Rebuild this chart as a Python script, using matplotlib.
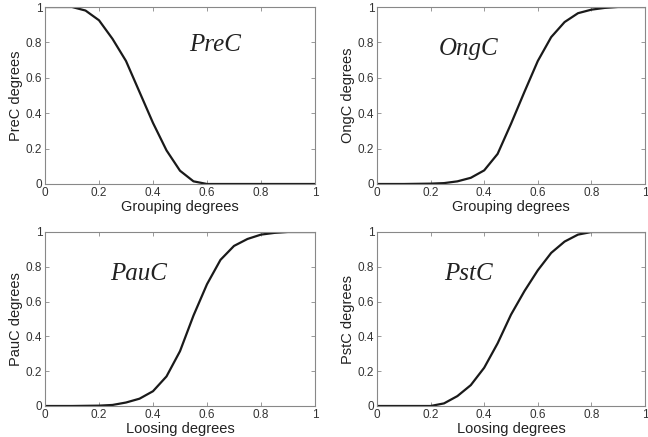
import matplotlib
matplotlib.use("Agg")
import matplotlib.pyplot as plt
from matplotlib.ticker import FuncFormatter

plt.rcParams['font.family'] = ['Liberation Sans', 'DejaVu Sans']

# x grid used for all four curves
x = [0.0, 0.05, 0.1, 0.15, 0.2, 0.25, 0.3, 0.35, 0.4, 0.45, 0.5,
     0.55, 0.6, 0.65, 0.7, 0.75, 0.8, 0.85, 0.9, 0.95, 1.0]

prec = [1, 1, 1, 0.98, 0.925, 0.82, 0.695, 0.52, 0.345, 0.19, 0.075,
        0.015, 0, 0, 0, 0, 0, 0, 0, 0, 0]
ongc = [0, 0, 0, 0.001, 0.002, 0.005, 0.015, 0.035, 0.077, 0.17, 0.34,
        0.52, 0.695, 0.83, 0.915, 0.965, 0.985, 0.995, 1, 1, 1]
pauc = [0, 0, 0, 0.001, 0.002, 0.006, 0.02, 0.042, 0.085, 0.17, 0.315,
        0.52, 0.70, 0.84, 0.92, 0.96, 0.985, 0.995, 1, 1, 1]
pstc = [0, 0, 0, 0, 0, 0.015, 0.057, 0.12, 0.22, 0.36, 0.525,
        0.66, 0.78, 0.88, 0.945, 0.985, 1, 1, 1, 1, 1]

names = ["PreC", "OngC", "PauC", "PstC"]
curves = [prec, ongc, pauc, pstc]
xlabels = ["Grouping degrees", "Grouping degrees", "Loosing degrees", "Loosing degrees"]
label_pos = [(0.63, 0.785), (0.34, 0.76), (0.345, 0.76), (0.34, 0.76)]

W, H = 648, 437
fig = plt.figure(figsize=(W / 100, H / 100), dpi=100)

# axes boxes in pixels: left, top, right, bottom
boxes = [(45, 7, 315, 184), (377, 7, 645, 184),
         (45, 232, 315, 406), (377, 232, 645, 406)]

fmt = FuncFormatter(lambda v, p: "%g" % round(v, 2))

for name, y, xl, lp, (l, t, r, b) in zip(names, curves, xlabels, label_pos, boxes):
    ax = fig.add_axes([l / W, 1 - b / H, (r - l) / W, (b - t) / H])
    ax.plot(x, y, color="#1a1a1a", lw=1.6)
    ax.set_xlim(0, 1)
    ax.set_ylim(0, 1)
    ticks = [0, 0.2, 0.4, 0.6, 0.8, 1]
    ax.set_xticks(ticks)
    ax.set_yticks(ticks)
    ax.xaxis.set_major_formatter(fmt)
    ax.yaxis.set_major_formatter(fmt)
    ax.tick_params(direction="in", length=3, width=0.6, colors="#888888",
                   labelcolor="#333333", labelsize=8.5, top=True, right=True, pad=2)
    for s in ax.spines.values():
        s.set_color("#888888")
        s.set_linewidth(0.8)
    ax.set_xlabel(xl, fontsize=10.5, color="#222222", labelpad=1)
    ax.set_ylabel(name + " degrees", fontsize=10.5, color="#222222", labelpad=2)
    ax.text(lp[0], lp[1], name, fontsize=18, style="italic", family="Liberation Serif",
            ha="center", va="center", color="#222222", transform=ax.transData)

fig.savefig("out.png", dpi=100)
